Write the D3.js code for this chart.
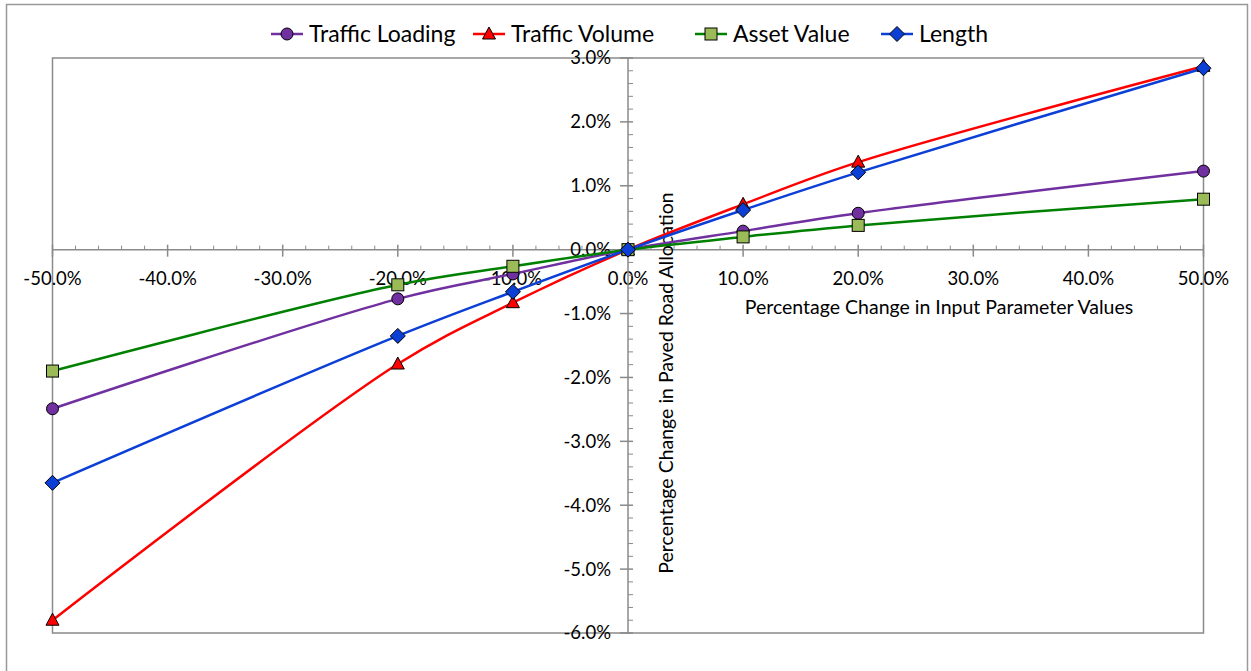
<!DOCTYPE html>
<html>
<head>
<meta charset="utf-8">
<script src="https://cdn.jsdelivr.net/npm/d3@7"></script>
<style>
  body { margin: 0; background: #fff; }
  svg text { font-family: Lato, "Open Sans", sans-serif; fill: #000; }
</style>
</head>
<body>
<div id="chart"></div>
<script>
// Percentage change in input (x) and the resulting change in allocation (y), in %
const inputChange = [-50, -20, -10, 0, 10, 20, 50];
const trafficLoading = [-2.49, -0.77, -0.38, 0, 0.29, 0.57, 1.23];
const trafficVolume = [-5.8, -1.79, -0.83, 0, 0.71, 1.37, 2.87];
const assetValue = [-1.9, -0.55, -0.26, 0, 0.2, 0.38, 0.79];
const lengthSeries = [-3.65, -1.35, -0.66, 0, 0.62, 1.21, 2.84];

const xTicks = [-50, -40, -30, -20, -10, 0, 10, 20, 30, 40, 50];
const yTicks = [-6, -5, -4, -3, -2, -1, 0, 1, 2, 3];

const series = [
  { name: "Traffic Loading", values: trafficLoading, line: "#7030a0", fill: "#7030a0", shape: "circle" },
  { name: "Traffic Volume", values: trafficVolume, line: "#ff0000", fill: "#ff0000", shape: "triangle" },
  { name: "Asset Value", values: assetValue, line: "#008000", fill: "#9bbb59", shape: "square" },
  { name: "Length", values: lengthSeries, line: "#0b3fd6", fill: "#0b3fd6", shape: "diamond" }
];

const W = 1251, H = 671;
const plot = { left: 52.5, right: 1203.5, top: 58, bottom: 633 };
const axisColor = "#8a8a8a";

const svg = d3.select("#chart").append("svg")
  .attr("width", W).attr("height", H);

// outer chart border
svg.append("rect")
  .attr("x", 6.5).attr("y", 4.5)
  .attr("width", 1241).attr("height", 700)
  .attr("fill", "none").attr("stroke", "#999").attr("stroke-width", 1.5);

// plot area border
svg.append("rect")
  .attr("x", plot.left).attr("y", plot.top)
  .attr("width", plot.right - plot.left).attr("height", plot.bottom - plot.top)
  .attr("fill", "none").attr("stroke", axisColor).attr("stroke-width", 1.5);

const x = d3.scaleLinear().domain([-50, 50]).range([plot.left, plot.right]);
const y = d3.scaleLinear().domain([-6, 3]).range([plot.bottom, plot.top]);

const fmt = (v) => v.toFixed(1) + "%";

// x axis at y=0
const xAxisY = y(0);
const xg = svg.append("g");
xg.append("line")
  .attr("x1", plot.left).attr("x2", plot.right)
  .attr("y1", xAxisY).attr("y2", xAxisY)
  .attr("stroke", axisColor).attr("stroke-width", 1.5);
xg.selectAll(".minor").data(d3.range(-50, 50.01, 2).filter((v) => v % 10 !== 0))
  .enter().append("line")
  .attr("x1", (d) => x(d)).attr("x2", (d) => x(d))
  .attr("y1", xAxisY - 4).attr("y2", xAxisY)
  .attr("stroke", axisColor).attr("stroke-width", 1);
xg.selectAll(".major").data(xTicks).enter().append("line")
  .attr("x1", (d) => x(d)).attr("x2", (d) => x(d))
  .attr("y1", xAxisY - 5).attr("y2", xAxisY + 7)
  .attr("stroke", axisColor).attr("stroke-width", 1.5);
xg.selectAll(".lbl").data(xTicks).enter().append("text")
  .attr("x", (d) => x(d)).attr("y", xAxisY + 35)
  .attr("text-anchor", "middle")
  .style("font-size", "18.5px")
  .text(fmt);

// y axis at x=0
const yAxisX = x(0);
const yg = svg.append("g");
yg.append("line")
  .attr("x1", yAxisX).attr("x2", yAxisX)
  .attr("y1", plot.top).attr("y2", plot.bottom)
  .attr("stroke", axisColor).attr("stroke-width", 1.5);
yg.selectAll(".minor").data(d3.range(-6, 3.001, 0.2).filter((v) => Math.abs(v - Math.round(v)) > 0.01))
  .enter().append("line")
  .attr("x1", yAxisX).attr("x2", yAxisX + 5)
  .attr("y1", (d) => y(d)).attr("y2", (d) => y(d))
  .attr("stroke", axisColor).attr("stroke-width", 1);
yg.selectAll(".major").data(yTicks).enter().append("line")
  .attr("x1", yAxisX - 8).attr("x2", yAxisX + 5)
  .attr("y1", (d) => y(d)).attr("y2", (d) => y(d))
  .attr("stroke", axisColor).attr("stroke-width", 1.5);
yg.selectAll(".lbl").data(yTicks).enter().append("text")
  .attr("x", yAxisX - 17).attr("y", (d) => y(d))
  .attr("dy", "0.35em")
  .attr("text-anchor", "end")
  .style("font-size", "18.5px")
  .text(fmt);

// axis titles
svg.append("text")
  .attr("x", 939).attr("y", 314)
  .attr("text-anchor", "middle")
  .style("font-size", "19.5px")
  .text("Percentage Change in Input Parameter Values");
svg.append("text")
  .attr("transform", `translate(673,383) rotate(-90)`)
  .attr("text-anchor", "middle")
  .style("font-size", "19.5px")
  .text("Percentage Change in Paved Road Allocation");

// markers
function drawMarker(g, shape, fill) {
  if (shape === "circle") {
    g.append("circle").attr("r", 6);
  } else if (shape === "triangle") {
    g.append("path").attr("d", "M0,-7L6.5,5L-6.5,5Z");
  } else if (shape === "square") {
    g.append("rect").attr("x", -6).attr("y", -6).attr("width", 12).attr("height", 12);
  } else {
    g.append("path").attr("d", "M0,-7.5L7.5,0L0,7.5L-7.5,0Z");
  }
  g.selectAll("*").attr("fill", fill).attr("stroke", "#000").attr("stroke-width", 1);
}

const line = d3.line()
  .x((d) => x(d[0]))
  .y((d) => y(d[1]))
  .curve(d3.curveCatmullRom.alpha(0.5));

series.forEach((s) => {
  const pts = inputChange.map((v, i) => [v, s.values[i]]);
  svg.append("path")
    .datum(pts)
    .attr("d", line)
    .attr("fill", "none")
    .attr("stroke", s.line)
    .attr("stroke-width", 2.5);
});

series.forEach((s) => {
  inputChange.forEach((v, i) => {
    const g = svg.append("g")
      .attr("transform", `translate(${x(v)},${y(s.values[i])})`);
    drawMarker(g, s.shape, s.fill);
  });
});

// legend
const legendX = [271, 473, 695, 881];
const legend = svg.append("g");
series.forEach((s, i) => {
  const lg = legend.append("g").attr("transform", `translate(${legendX[i]},34)`);
  lg.append("line")
    .attr("x1", 0).attr("x2", 32)
    .attr("stroke", s.line).attr("stroke-width", 2.5);
  const m = lg.append("g").attr("transform", "translate(16,0)");
  drawMarker(m, s.shape, s.fill);
  lg.append("text")
    .attr("x", 38).attr("y", 0).attr("dy", "0.35em")
    .style("font-size", "23px")
    .text(s.name);
});
</script>
</body>
</html>
